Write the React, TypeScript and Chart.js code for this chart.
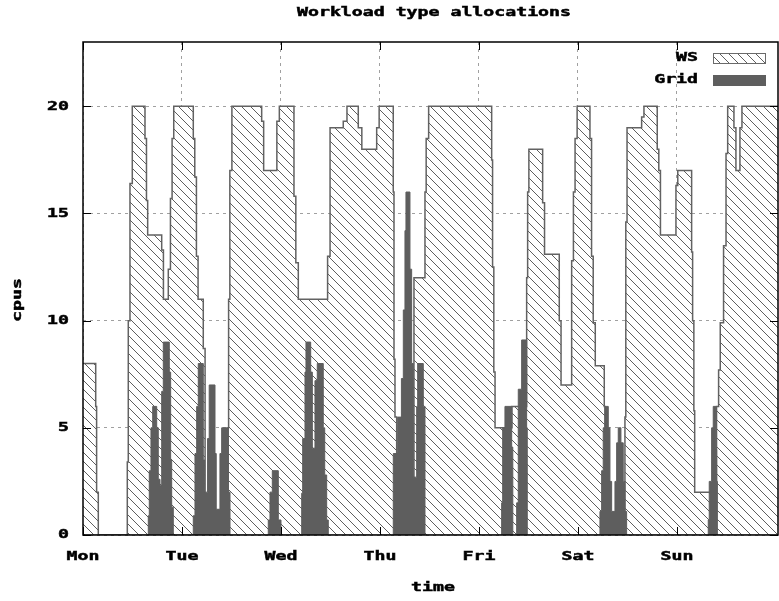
import React, { useEffect, useRef } from 'react';
import { Chart, registerables } from 'chart.js';
Chart.register(...registerables);

const TITLE = 'Workload type allocations';
const X_TITLE = 'time';
const Y_TITLE = 'cpus';
const DAY_LABELS = ['Mon', 'Tue', 'Wed', 'Thu', 'Fri', 'Sat', 'Sun'];
const DAY_HOURS = [0, 24, 48, 72, 96, 120, 144];
const Y_TICKS = [0, 5, 10, 15, 20];
const SERIES_NAMES = ['WS', 'Grid'];

// WS: change points (hour -> cpus held until next point)
const WS_HOURS = [
  0, 3.08, 3.3, 3.71, 10.74, 10.98, 11.39, 11.95, 15.03, 15.39, 15.68, 19.08, 19.5, 20.68, 21.2, 21.6, 22.0,
  26.74, 27.1, 27.5, 27.9, 29.16, 29.6, 35.2, 35.3, 35.6, 36.1, 43.32, 43.8, 47.0, 47.6, 51.15, 51.6, 52.2,
  59.3, 59.9, 63.1, 64.0, 66.74, 67.6, 71.2, 71.8, 75.22, 75.4, 75.64, 76.05, 76.36, 80.24, 82.91, 83.2, 83.8,
  99.08, 99.3, 99.6, 99.9, 104.0, 107.56, 107.8, 108.1, 111.44, 111.9, 115.47, 115.9, 118.47, 118.9, 119.3, 119.8,
  122.91, 123.3, 123.7, 124.2, 126.38, 126.55, 131.39, 131.6, 131.9, 135.44, 136.0, 139.22, 139.6, 140.0,
  143.76, 144.2, 147.56, 147.8, 148.1, 148.3, 153.6, 154.1, 154.5, 155.3, 155.9, 156.3, 157.82, 158.3, 159.27,
  159.76, 168.5,
];
const WS_CPUS = [
  8, 6, 2, 0, 3.4, 10, 16.4, 20, 18.5, 15.6, 14, 13.3, 11, 12.4, 15.7, 18.5, 20,
  18.5, 16.7, 13, 11, 8.7, 1, 5, 11, 17, 20, 19.3, 17, 19.3, 20, 15.8, 12.7, 11,
  13, 19, 19.3, 20, 19, 18, 19, 20, 16, 8.2, 5.5, 3.8, 1, 12, 16, 18.5, 20,
  17.5, 12.5, 7.6, 5, 6, 12, 16, 18, 15.5, 13.1, 10, 7, 12.8, 16, 18.5, 20,
  18.5, 13, 9.9, 7.9, 6, 1, 5.5, 14.6, 19, 19.5, 20, 18, 17, 14,
  16.3, 17, 13.2, 10, 5.8, 2, 6, 7.7, 9.9, 13.5, 17.8, 20, 19, 17, 19,
  20, 20,
];

// Grid: change points
const GRID_HOURS = [
  0, 15.83, 16.07, 16.48, 16.9, 17.87, 18.25, 18.67, 19.08, 19.47, 20.92, 21.25, 21.5, 21.89,
  26.74, 27.15, 27.56, 27.95, 29.16, 29.5, 30.2, 30.6, 32.0, 32.3, 33.2, 33.62, 35.22, 35.64,
  44.92, 45.33, 45.9, 47.35, 48.0,
  53.02, 53.26, 53.82, 54.06, 55.2, 55.6, 56.24, 56.8, 58.25, 58.6, 59.08, 59.47,
  75.23, 76.29, 77.2, 77.66, 78.06, 78.3, 79.27, 79.68, 80.08, 80.9, 81.14, 82.5, 82.91,
  101.5, 101.75, 102.3, 103.93, 104.2, 105.14, 105.53, 106.35, 107.56, 107.71,
  125.33, 125.74, 126.13, 126.55, 127.35, 127.76, 128.17, 128.97, 129.38, 129.77, 130.42, 130.98, 131.39, 131.8,
  151.59, 151.83, 152.41, 152.8, 153.45, 153.62, 153.8, 168.5,
];
const GRID_CPUS = [
  0, 0.9, 3, 5, 6, 5, 2.6, 2.3, 6.7, 9, 7.6, 3.5, 1.3, 0,
  0.9, 3.8, 6, 8, 3.5, 2, 4.5, 7, 3.8, 1.2, 3.8, 5, 2, 0,
  0.7, 2, 3, 0.7, 0,
  1.95, 4.5, 7.6, 9, 7.6, 4.05, 7.2, 8, 5, 2.8, 0.7, 0,
  3.8, 5.5, 7.3, 10.5, 14.2, 16, 12.4, 8, 2.7, 6, 8, 6, 0,
  1.5, 5, 6, 4.1, 0, 1.5, 6.8, 9.1, 5, 0,
  1.1, 3, 5, 6, 5, 2.5, 1.1, 2.5, 4.3, 5, 4.3, 2.5, 1.1, 0,
  0.7, 2.5, 5, 6, 4, 2.5, 0, 0,
];

const FONT = 'bold 13px "DejaVu Sans Mono"';
const SX = 1.4;
const GRID_FILL = '#5e5e5e';

function makeHatch(): CanvasPattern | string {
  const s = 9;
  const c = document.createElement('canvas');
  c.width = s;
  c.height = s;
  const g = c.getContext('2d');
  if (!g) return '#fff';
  g.fillStyle = '#ffffff';
  g.fillRect(0, 0, s, s);
  g.strokeStyle = '#5f5f5f';
  g.lineWidth = 1;
  for (const k of [-s, 0, s]) {
    g.beginPath();
    g.moveTo(k - 1, -1);
    g.lineTo(k + s + 1, s + 1);
    g.stroke();
  }
  return g.createPattern(c, 'repeat') || '#fff';
}

function wideText(ctx: CanvasRenderingContext2D, text: string, x: number, y: number, align: CanvasTextAlign, rot = 0) {
  ctx.save();
  ctx.translate(x, y);
  if (rot) ctx.rotate(rot);
  ctx.scale(SX, 1);
  ctx.font = FONT;
  ctx.fillStyle = '#000';
  ctx.strokeStyle = '#000';
  ctx.lineWidth = 0.5;
  ctx.textAlign = align;
  ctx.textBaseline = 'middle';
  ctx.fillText(text, 0, 0);
  ctx.strokeText(text, 0, 0);
  ctx.restore();
}

export default function App() {
  const ref = useRef<HTMLCanvasElement>(null);
  useEffect(() => {
    document.body.style.margin = '0';
    const canvas = ref.current;
    if (!canvas) return;
    const hatch = makeHatch();

    const overlay = {
      id: 'gnuOverlay',
      afterDraw(chart: any) {
        const ctx: CanvasRenderingContext2D = chart.ctx;
        const { left, right, top, bottom } = chart.chartArea;
        const xs = chart.scales.x;
        const ys = chart.scales.y;
        ctx.save();
        ctx.strokeStyle = '#000';
        ctx.lineWidth = 1;
        ctx.beginPath();
        for (const v of Y_TICKS) {
          const py = Math.round(ys.getPixelForValue(v)) + 0.5;
          ctx.moveTo(left, py);
          ctx.lineTo(left + 8, py);
          ctx.moveTo(right, py);
          ctx.lineTo(right - 8, py);
        }
        for (const h of DAY_HOURS) {
          const px = Math.round(xs.getPixelForValue(h)) + 0.5;
          ctx.moveTo(px, bottom);
          ctx.lineTo(px, bottom - 8);
          ctx.moveTo(px, top);
          ctx.lineTo(px, top + 8);
        }
        ctx.stroke();
        ctx.lineWidth = 1.5;
        ctx.strokeRect(left, top, right - left, bottom - top);
        for (const v of Y_TICKS) {
          wideText(ctx, String(v), 69, ys.getPixelForValue(v), 'right');
        }
        DAY_HOURS.forEach((h, i) => {
          wideText(ctx, DAY_LABELS[i], xs.getPixelForValue(h), 557, 'center');
        });
        wideText(ctx, TITLE, 434, 13, 'center');
        wideText(ctx, X_TITLE, 433, 588, 'center');
        wideText(ctx, Y_TITLE, 18, 300, 'center', -Math.PI / 2);
        wideText(ctx, SERIES_NAMES[0], 698, 58, 'right');
        wideText(ctx, SERIES_NAMES[1], 698, 80, 'right');
        ctx.fillStyle = hatch as any;
        ctx.fillRect(713, 53, 52, 10);
        ctx.strokeStyle = '#6a6a6a';
        ctx.lineWidth = 1;
        ctx.strokeRect(713.5, 53.5, 52, 10);
        ctx.fillStyle = GRID_FILL;
        ctx.fillRect(713, 75, 53, 11);
        ctx.restore();
      },
    };

    const chart = new Chart(canvas, {
      type: 'line',
      data: {
        datasets: [
          {
            label: SERIES_NAMES[0],
            data: WS_HOURS.map((h, i) => ({ x: h, y: WS_CPUS[i] })),
            stepped: true,
            fill: 'origin',
            backgroundColor: hatch as any,
            borderColor: '#626262',
            borderWidth: 1.5,
            pointRadius: 0,
            order: 2,
          },
          {
            label: SERIES_NAMES[1],
            data: GRID_HOURS.map((h, i) => ({ x: h, y: GRID_CPUS[i] })),
            stepped: true,
            fill: 'origin',
            backgroundColor: GRID_FILL,
            borderColor: GRID_FILL,
            borderWidth: 1,
            pointRadius: 0,
            order: 1,
          },
        ],
      },
      options: {
        responsive: false,
        animation: false,
        devicePixelRatio: 1,
        layout: { padding: { left: 0, top: 42, right: 1, bottom: 0 } },
        plugins: {
          legend: { display: false },
          title: { display: false },
          tooltip: { enabled: false },
        },
        scales: {
          x: {
            type: 'linear',
            min: 0,
            max: 168.5,
            afterBuildTicks: (s: any) => {
              s.ticks = DAY_HOURS.map((v) => ({ value: v }));
            },
            afterFit: (s: any) => {
              s.height = 66;
            },
            ticks: { display: false },
            grid: { color: '#a0a0a0', lineWidth: 1, drawTicks: false },
            border: { display: false, dash: [3, 4] },
          },
          y: {
            type: 'linear',
            min: 0,
            max: 23,
            afterBuildTicks: (s: any) => {
              s.ticks = Y_TICKS.map((v) => ({ value: v }));
            },
            afterFit: (s: any) => {
              s.width = 83;
            },
            ticks: { display: false },
            grid: { color: '#a0a0a0', lineWidth: 1, drawTicks: false },
            border: { display: false, dash: [3, 4] },
          },
        },
      },
      plugins: [overlay],
    });
    return () => chart.destroy();
  }, []);
  return (
    <div style={{ width: 779, height: 601 }}>
      <canvas ref={ref} width={779} height={601} style={{ display: 'block', width: 779, height: 601 }} />
    </div>
  );
}
